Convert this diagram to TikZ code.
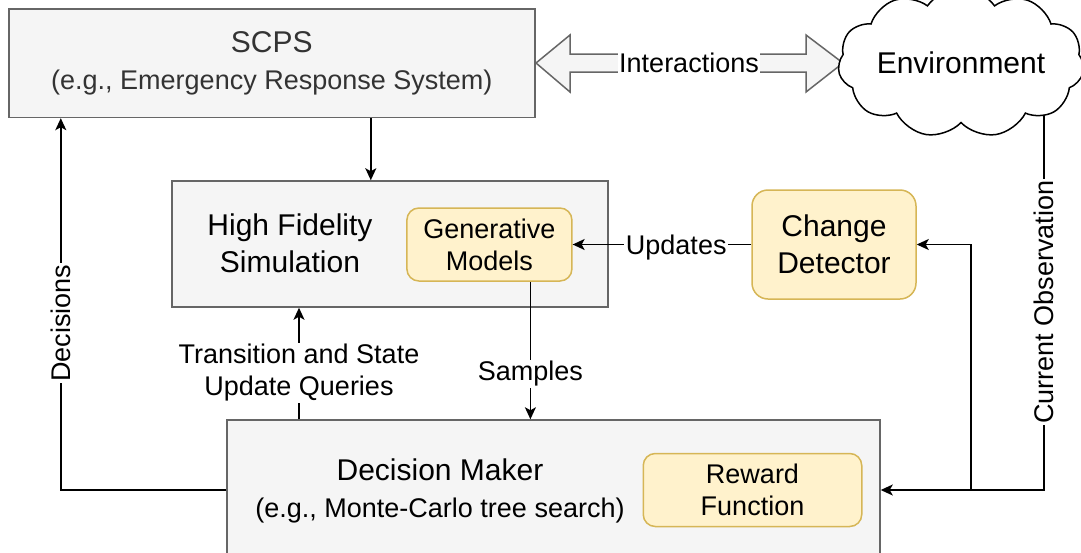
\documentclass[tikz,border=0pt]{standalone}
\usepackage{fontspec}
\setmainfont{Liberation Sans}
\usetikzlibrary{arrows.meta, calc, positioning, shapes.symbols}

\definecolor{boxfill}{HTML}{F5F5F5}
\definecolor{boxline}{HTML}{666666}
\definecolor{notefill}{HTML}{FFF2CC}
\definecolor{noteline}{HTML}{D6B656}
\definecolor{titlegray}{HTML}{333333}
\newcommand{\bigtxt}{\fontsize{30}{37}\selectfont}
\newcommand{\smalltxt}{\fontsize{27}{32}\selectfont}

\begin{document}
\begin{tikzpicture}[x=1pt, y=-1pt,
  graybox/.style={rectangle, draw=boxline, fill=boxfill, line width=1.5pt},
  notebox/.style={rectangle, rounded corners=12pt, draw=noteline, fill=notefill, line width=1.5pt, align=center, font=\smalltxt},
  conn/.style={line width=1.6pt, ->},
  lbl/.style={fill=white, inner sep=1.5pt, font=\smalltxt, align=center},
  >={Stealth[length=12pt, width=11pt, inset=3pt]}]
\fill[white] (0,0) rectangle (1081,552);
\useasboundingbox (0,0) rectangle (1081,552);

% boxes
\node[graybox, minimum width=526, minimum height=108.5, align=center, text=titlegray, font=\bigtxt] at (271.8,63.2) (scps) {SCPS\\\smalltxt (e.g., Emergency Response System)};
\node[graybox, minimum width=436, minimum height=126] at (390,244) (hfs) {};
\node[font=\bigtxt, align=center] at (290,243.5) (hfstext) {High Fidelity\\Simulation};
\node[notebox, minimum width=165, minimum height=73] at (489.4,244.5) (gm) {Generative\\Models};
\node[notebox, font=\bigtxt, rounded corners=16pt, minimum width=164, minimum height=109] at (834,244.5) (cd) {Change\\Detector};
\node[graybox, minimum width=653, minimum height=140] at (553.5,490) (dm) {};
\node[font=\bigtxt, align=center] at (440,490.5) (dmtext) {Decision Maker\\\smalltxt (e.g., Monte-Carlo tree search)};
\node[notebox, minimum width=218.5, minimum height=73] at (752.5,490) (rf) {Reward\\Function};

% connectors
\draw[conn] ([xshift=99pt]scps.south) -- ([xshift=99pt]scps.south |- hfs.north);
\draw[conn] (cd.west) -- (gm.east) node[lbl, pos=0.42, yshift=-3pt] (updlbl) {Updates};
\draw[conn] ([xshift=41pt]gm.south) -- ([xshift=41pt]gm.south |- dm.north) node[lbl, pos=0.669] (smplbl) {Samples};
\draw[conn] ([xshift=-91pt]hfs.south |- dm.north) -- ([xshift=-91pt]hfs.south) node[lbl, pos=0.416] (qrylbl) {Transition and State\\Update Queries};
\draw[conn] (dm.west) -| ([xshift=-211pt]scps.south) node[lbl, rotate=90, pos=0.724] (declbl) {Decisions};

\coordinate (obs) at (1044,63);
\coordinate (split) at ([xshift=90pt]dm.east);
\draw[conn] (obs) |- (dm.east) node[lbl, rotate=90, pos=0.28] (obslbl) {Current Observation};
\draw[conn] (split) |- (cd.east);

% interactions
\draw[draw=boxline, fill=boxfill, line width=1.5pt] (536,63) -- (570,35) -- (570,54) -- (806,54) -- (806,35) -- (843,63) -- (806,92) -- (806,72) -- (570,72) -- (570,92) -- cycle;
\node[lbl] at (689,63) (intlbl) {Interactions};

\node[cloud, draw, fill=white, line width=1.5pt, cloud puffs=11, cloud puff arc=110, aspect=2, minimum width=240, minimum height=116, inner sep=0pt, font=\bigtxt] at (961,63) (env) {Environment};
\end{tikzpicture}
\end{document}
